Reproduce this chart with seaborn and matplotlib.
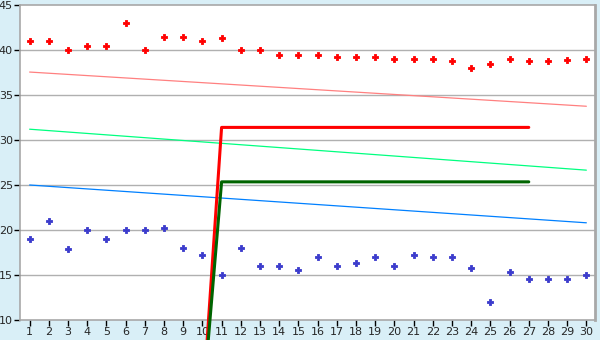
import matplotlib
matplotlib.use("Agg")
import matplotlib.pyplot as plt
import seaborn as sns
import pandas as pd

x_days = list(range(1, 31))
red_vals = [41, 41, 40, 40.5, 40.5, 43, 40, 41.5, 41.5, 41, 41.3, 40, 40, 39.5, 39.5,
            39.5, 39.2, 39.2, 39.2, 39, 39, 39, 38.75, 38, 38.4, 39, 38.75, 38.75, 38.85, 39]
blue_vals = [19, 21, 17.9, 20, 19, 20, 20, 20.2, 18, 17.2, 15, 18, 16, 16, 15.55,
             17, 16, 16.3, 17, 16, 17.2, 17, 17, 15.8, 12, 15.33, 14.55, 14.55, 14.55, 15]
trend_x = [1, 30]
trend_pink = [37.55, 33.75]
trend_green = [31.2, 26.65]
trend_blue = [25.0, 20.8]
step_x = [10, 11, 27]
step_red = [0, 31.4, 31.4]
step_green = [0, 25.35, 25.35]

sns.set_style("white")
bg = "#d9eff7"
fig = plt.figure(figsize=(6, 3.4), dpi=100, facecolor=bg)
ax = fig.add_axes([20/600, 20/340, 575/600, 315/340])
ax.set_facecolor("white")

for yv in [15, 20, 25, 30, 35, 40]:
    ax.axhline(yv, color="#b0b0b0", lw=1, zorder=0)

sns.lineplot(x=trend_x, y=trend_pink, ax=ax, color="#ff8080", lw=0.9)
sns.lineplot(x=trend_x, y=trend_green, ax=ax, color="#00ff80", lw=0.9)
sns.lineplot(x=trend_x, y=trend_blue, ax=ax, color="#0080ff", lw=0.9)

sns.scatterplot(x=x_days, y=red_vals, ax=ax, color="#ff0000", marker="P", s=20,
                linewidth=0.6, edgecolor="#ff0000", zorder=4)
sns.scatterplot(x=x_days, y=blue_vals, ax=ax, color="#3b3bcc", marker="P", s=20,
                linewidth=0.6, edgecolor="#3b3bcc", zorder=4)

sns.lineplot(x=step_x, y=step_red, ax=ax, color="#ff0000", lw=2.2, sort=False)
sns.lineplot(x=step_x, y=step_green, ax=ax, color="#006400", lw=2.2, sort=False)
for ln in ax.get_lines()[-2:]:
    ln.set_clip_on(False)
    ln.set_zorder(5)

ax.set_xlim(0.5, 30.45)
ax.set_ylim(10, 45)
ax.set_xticks(x_days)
ax.set_yticks([10, 15, 20, 25, 30, 35, 40, 45])
ax.tick_params(axis="both", labelsize=8, length=4, width=1, color="#000000",
               pad=1, direction="out", bottom=True, left=True)
for s in ax.spines.values():
    s.set_color("#a8a8a8")
    s.set_linewidth(1.2)
ax.spines["right"].set_linewidth(2)
ax.set_xlabel("")
ax.set_ylabel("")

fig.savefig("out.png", dpi=100, facecolor=bg)
